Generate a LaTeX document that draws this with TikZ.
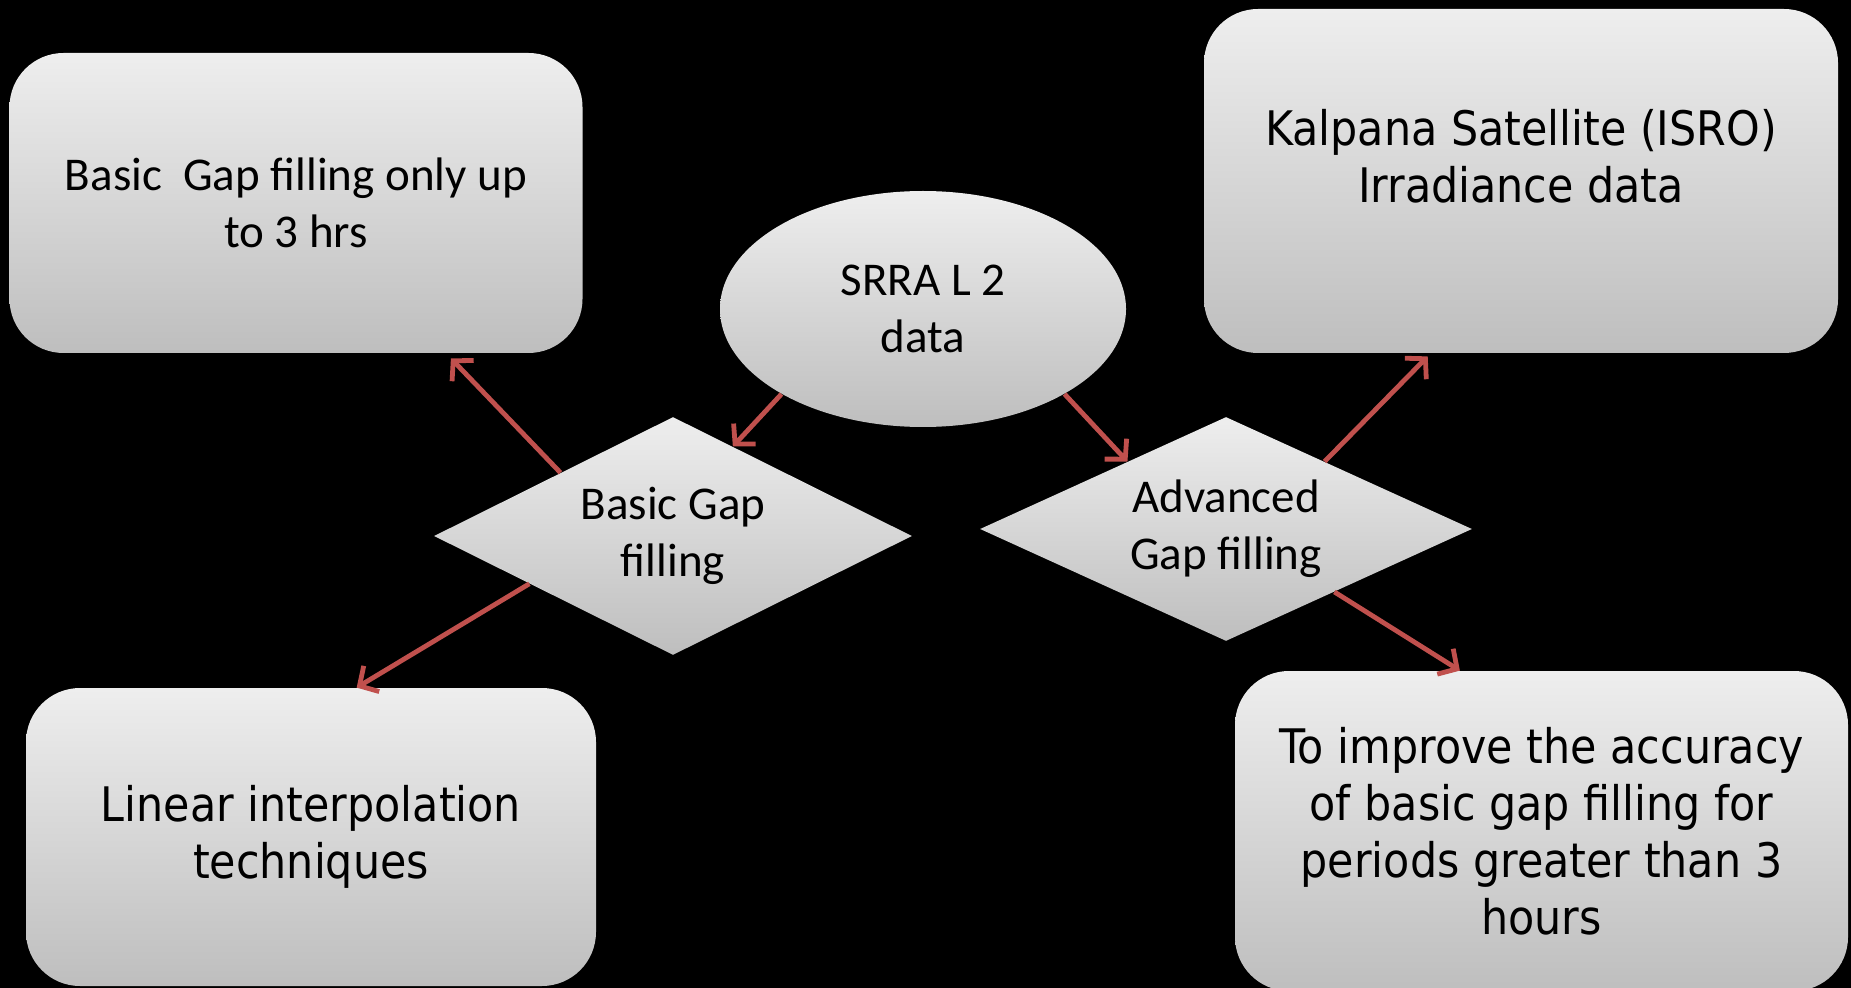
\documentclass[tikz,border=0pt]{standalone}
\usepackage{fontspec}
\setmainfont{Carlito}
\newfontfamily\tahomafont[FakeStretch=0.9]{DejaVu Sans}
\usetikzlibrary{shapes.geometric,arrows.meta,calc}
\definecolor{shadetop}{RGB}{238,238,238}
\definecolor{shadebot}{RGB}{190,190,190}
\definecolor{linkred}{RGB}{192,80,77}

\begin{document}
\begin{tikzpicture}[x=0.5pt,y=-0.5pt,
  shapebase/.style={top color=shadetop,bottom color=shadebot,draw=none,
    inner sep=0pt,text=black,align=center,
    font=\fontsize{23.5}{28.5}\selectfont},
  tahoma/.style={font=\tahomafont\fontsize{23.8}{28.5}\selectfont},
  roundbox/.style={shapebase,rectangle,rounded corners=27pt},
  decision/.style={shapebase,diamond,shape aspect=2.1},
  link/.style={draw=linkred,line width=2.4pt,
    -{Straight Barb[length=7pt,width=15pt]}}]

% canvas
\fill[black] (0,0) rectangle (1851,988);
\useasboundingbox (0,0) rectangle (1851,988);

% data source
\node[shapebase,ellipse,minimum width=203pt,minimum height=118pt] (srra)
  at (923,309) {SRRA L 2\\data};

% the two gap-filling branches
\node[decision,minimum width=239pt,minimum height=119pt] (basic)
  at (673,536) {Basic Gap\\filling};
\node[decision,minimum width=246pt,minimum height=112pt] (adv)
  at (1226,529) {Advanced\\Gap filling};

% outcome boxes
\node[roundbox,minimum width=286.5pt,minimum height=150pt] (gapbox)
  at (296,203) {Basic\ \ Gap filling only up\\to 3 hrs};
\node[roundbox,minimum width=317pt,minimum height=172pt,
  label={[tahoma,align=center,yshift=12.5pt]center:{Kalpana Satellite (ISRO)\\Irradiance data}}]
  (kalpana) at (1521,181) {};
\node[roundbox,tahoma,minimum width=285pt,minimum height=149pt] (linear)
  at (311,837) {Linear interpolation\\techniques};
\node[roundbox,tahoma,minimum width=306.5pt,minimum height=160pt] (improve)
  at (1541.5,831) {To improve the accuracy\\of basic gap filling for\\periods greater than 3\\hours};

% connectors
\draw[link] (srra.211) -- ($(basic.north)!0.25!(basic.east)$);
\draw[link] (srra.329) -- ($(adv.west)!0.6!(adv.north)$);
\draw[link] ($(basic.west)!0.53!(basic.north)$) --
  ($(gapbox.south west)!0.77!(gapbox.south east)+(0,5)$);
\draw[link] ($(basic.west)!0.4!(basic.south)$) --
  ($(linear.north west)!0.58!(linear.north east)$);
\draw[link] ($(adv.north)!0.4!(adv.east)$) --
  ($(kalpana.south west)!0.353!(kalpana.south east)+(0,3)$);
\draw[link] ($(adv.east)!0.56!(adv.south)$) --
  ($(improve.north west)!0.367!(improve.north east)$);
\end{tikzpicture}
\end{document}
